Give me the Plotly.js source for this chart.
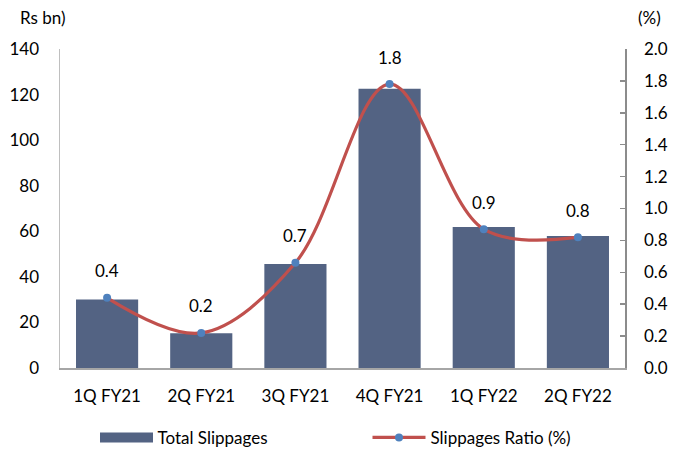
<!DOCTYPE html>
<html>
<head>
<meta charset="utf-8">
<script src="https://cdn.plot.ly/plotly-3.0.1.min.js"></script>
<style>
  html, body { margin: 0; padding: 0; background: #fff; }
  #chart { width: 675px; height: 450px; }
</style>
</head>
<body>
<div id="chart"></div>
<script>
// Quarterly slippages (Rs bn) and slippage ratio (%)
const quarters = ['1Q FY21', '2Q FY21', '3Q FY21', '4Q FY21', '1Q FY22', '2Q FY22'];
const totalSlippages = [30.1, 15.3, 45.6, 122.6, 61.9, 57.9];
const slippagesRatio = [0.44, 0.22, 0.66, 1.78, 0.87, 0.82];

const FONT = 'Lato, "Open Sans", sans-serif';
const FS = 17;

const bars = {
  type: 'bar',
  name: 'Total Slippages',
  x: quarters,
  y: totalSlippages,
  marker: { color: '#536383' },
  width: 0.66,
  yaxis: 'y',
  hoverinfo: 'x+y'
};

const ratio = {
  type: 'scatter',
  mode: 'lines+markers',
  name: 'Slippages Ratio (%)',
  x: quarters,
  y: slippagesRatio,
  yaxis: 'y2',
  line: { color: '#C0504D', width: 3.2, shape: 'spline', smoothing: 1 },
  marker: { color: '#4F81BD', size: 8 },
  hoverinfo: 'x+y'
};

// Value labels above the ratio points
const labels = quarters.map((q, i) => ({
  x: q,
  y: slippagesRatio[i],
  xref: 'x',
  yref: 'y2',
  text: slippagesRatio[i].toFixed(1),
  showarrow: false,
  yshift: 27,
  font: { family: FONT, size: FS, color: '#000' }
}));

const layout = {
  width: 675,
  height: 450,
  margin: { l: 60, r: 50, t: 49, b: 82, autoexpand: false },
  paper_bgcolor: '#fff',
  plot_bgcolor: '#fff',
  font: { family: FONT, size: FS, color: '#000' },
  showlegend: true,
  xaxis: {
    type: 'category',
    showline: true,
    linecolor: '#a6a6a6',
    linewidth: 1.5,
    ticks: '',
    showgrid: false,
    ticklabelstandoff: 12,
    tickfont: { family: FONT, size: FS }
  },
  yaxis: {
    range: [0, 140],
    dtick: 20,
    showline: true,
    linecolor: '#bfbfbf',
    linewidth: 1.5,
    ticks: '',
    showgrid: false,
    zeroline: false,
    ticklabelstandoff: 16,
    tickfont: { family: FONT, size: FS }
  },
  yaxis2: {
    range: [0, 2.0],
    dtick: 0.2,
    tickformat: '.1f',
    overlaying: 'y',
    side: 'right',
    showline: true,
    linecolor: '#8c8c8c',
    linewidth: 1.5,
    ticks: 'inside',
    ticklen: 5,
    tickcolor: '#8c8c8c',
    tickwidth: 1.5,
    showgrid: false,
    zeroline: false,
    ticklabelstandoff: 14,
    tickfont: { family: FONT, size: FS }
  },
  legend: {
    orientation: 'h',
    xref: 'container',
    yref: 'container',
    x: 0.14,
    xanchor: 'left',
    y: 0.027,
    yanchor: 'middle',
    entrywidth: 205,
    itemwidth: 53,
    font: { family: FONT, size: FS }
  },
  annotations: labels.concat([
    {
      text: 'Rs bn)', xref: 'paper', yref: 'paper', x: -0.075, y: 1.1,
      xanchor: 'left', yanchor: 'middle', showarrow: false,
      font: { family: FONT, size: FS }
    },
    {
      text: '(%)', xref: 'paper', yref: 'paper', x: 1.044, y: 1.1,
      xanchor: 'center', yanchor: 'middle', showarrow: false,
      font: { family: FONT, size: FS }
    }
  ])
};

Plotly.newPlot('chart', [bars, ratio], layout, { displayModeBar: false, staticPlot: true }).then(gd => {
  // Widen the bar swatch in the legend to a long rectangle
  const first = gd.querySelectorAll('.legend .traces')[0];
  if (first) {
    const p = first.querySelector('.legendpoints path');
    if (p) p.setAttribute('d', 'M-26,-5h53v10h-53Z');
  }
});
</script>
</body>
</html>
